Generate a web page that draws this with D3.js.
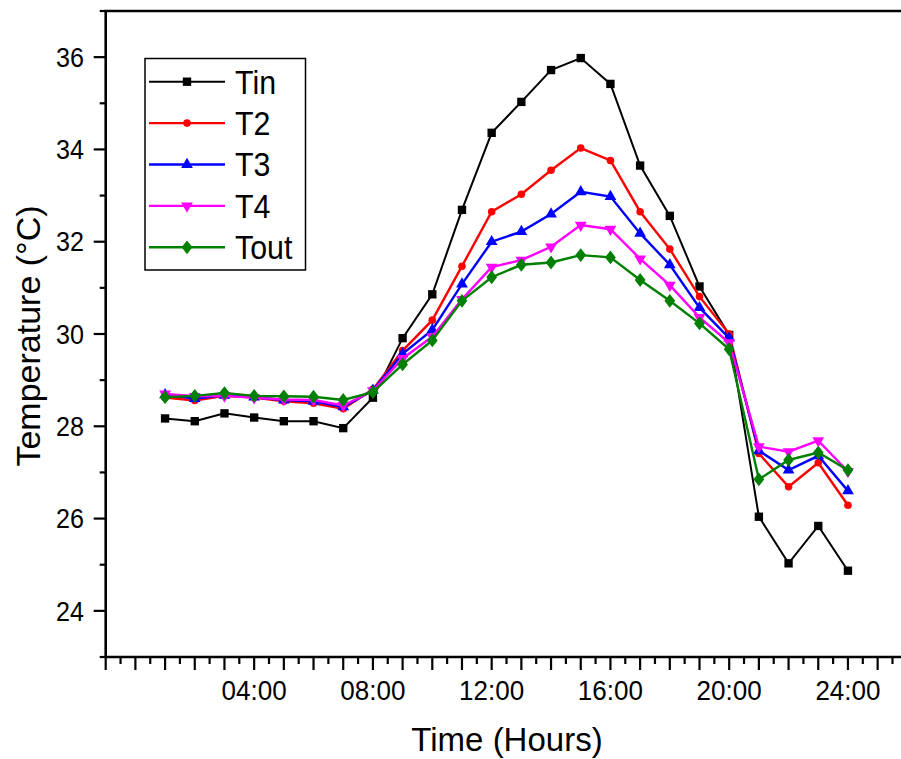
<!DOCTYPE html>
<html><head><meta charset="utf-8">
<script src="https://cdn.jsdelivr.net/npm/d3@7"></script>
<style>body{margin:0;background:#fff}svg{display:block}text{font-family:"Liberation Sans",Arial,sans-serif}</style>
</head><body>
<svg id="c" width="901" height="759"></svg>
<script>
const hours = [1,2,3,4,5,6,7,8,9,10,11,12,13,14,15,16,17,18,19,20,21,22,23,24];
const Tin  = [28.17,28.11,28.28,28.19,28.11,28.11,27.96,28.62,29.91,30.86,32.69,34.36,35.03,35.72,35.98,35.42,33.65,32.56,31.03,29.98,26.04,25.03,25.84,24.87];
const T2   = [28.62,28.56,28.66,28.62,28.54,28.50,28.38,28.80,29.64,30.30,31.47,32.65,33.03,33.55,34.03,33.76,32.65,31.84,30.81,30.00,27.41,26.69,27.21,26.29];
const T3   = [28.68,28.60,28.67,28.63,28.57,28.54,28.42,28.78,29.57,30.09,31.08,32.00,32.22,32.60,33.08,32.98,32.18,31.50,30.57,29.91,27.47,27.05,27.36,26.60];
const T4   = [28.70,28.65,28.66,28.62,28.58,28.57,28.45,28.77,29.47,29.94,30.75,31.45,31.60,31.89,32.36,32.27,31.63,31.06,30.36,29.81,27.56,27.45,27.69,27.02];
const Tout = [28.63,28.66,28.72,28.66,28.65,28.64,28.57,28.74,29.34,29.86,30.72,31.23,31.50,31.55,31.71,31.66,31.17,30.72,30.23,29.67,26.85,27.27,27.43,27.05];
const seriesNames = ["Tin","T2","T3","T4","Tout"];
const seriesColors = ["#000000","#ff0000","#0000ff","#ff00ff","#008000"];
const seriesSymbols = ["square","circle","triangle","triangleDown","diamond"];
const yTicks = [24,26,28,30,32,34,36];
const xTickHours = [4,8,12,16,20,24];
const xTickLabels = ["04:00","08:00","12:00","16:00","20:00","24:00"];
const xTitle = "Time (Hours)";
const yTitle = "Temperature (°C)";

const data = [Tin,T2,T3,T4,Tout];
const svg = d3.select("#c");
const L = 105.7, T = 11, B = 657;
const x = d3.scaleLinear().domain([-1, 27]).range([L, L + 28*29.69]);
const y = d3.scaleLinear().domain([23, 37]).range([B, T]);

// axes
const xMajor = d3.range(-1, 28, 1), xMinor = d3.range(-0.5, 27, 1);
const gx = svg.append("g");
gx.selectAll("line.maj").data(xMajor).join("line")
  .attr("x1", d=>x(d)).attr("x2", d=>x(d)).attr("y1", B).attr("y2", B+13)
  .attr("stroke","#000").attr("stroke-width",2.2);
gx.selectAll("line.min").data(xMinor).join("line")
  .attr("x1", d=>x(d)).attr("x2", d=>x(d)).attr("y1", B).attr("y2", B+7)
  .attr("stroke","#000").attr("stroke-width",2.2);
gx.selectAll("text").data(xTickHours).join("text")
  .attr("x", d=>x(d)).attr("y", 700).attr("text-anchor","middle")
  .attr("font-size", 28).attr("transform", d=>`translate(${x(d)},0) scale(0.93,1) translate(${-x(d)},0)`)
  .text((d,i)=>xTickLabels[i]);

const gy = svg.append("g");
gy.selectAll("line.maj").data(d3.range(23,38,1)).join("line")
  .attr("y1", d=>y(d)).attr("y2", d=>y(d)).attr("x1", L).attr("x2", d=> d%2===0 ? L-12 : L-6)
  .attr("stroke","#000").attr("stroke-width",2.2);
gy.selectAll("text").data(yTicks).join("text")
  .attr("x", 84).attr("y", d=>y(d)).attr("dy","0.36em").attr("text-anchor","end")
  .attr("font-size", 27).attr("transform","translate(84,0) scale(0.93,1) translate(-84,0)").text(d=>d);

svg.append("line").attr("x1",L).attr("x2",L).attr("y1",T).attr("y2",B+1).attr("stroke","#000").attr("stroke-width",2.6);
svg.append("line").attr("x1",L-1).attr("x2",905).attr("y1",B).attr("y2",B).attr("stroke","#000").attr("stroke-width",2.6);
svg.append("line").attr("x1",L-1).attr("x2",905).attr("y1",T).attr("y2",T).attr("stroke","#000").attr("stroke-width",2.6);

svg.append("text").attr("x", 507).attr("y", 751).attr("text-anchor","middle").attr("font-size",33).text(xTitle);
svg.append("text").attr("transform","translate(40,336) rotate(-90)").attr("text-anchor","middle").attr("font-size",34).text(yTitle);

// symbols
function sym(kind){
  const map = {square:[d3.symbolSquare,70], circle:[d3.symbolCircle,45], triangle:[d3.symbolTriangle,60], triangleDown:[d3.symbolTriangle,60], diamond:[d3.symbolDiamond,55]};
  return d3.symbol().type(map[kind][0]).size(map[kind][1])();
}
function extra(kind){ return kind==="triangleDown" ? " rotate(180)" : (kind==="diamond" ? " scale(1.35,1)" : ""); }
const line = d3.line().x((d,i)=>x(hours[i])).y(d=>y(d));
data.forEach((s,k)=>{
  const g = svg.append("g");
  g.append("path").attr("d", line(s)).attr("fill","none").attr("stroke",seriesColors[k]).attr("stroke-width", k===0?2:2.4);
  g.selectAll("path.m").data(s).join("path").attr("class","m")
    .attr("d", sym(seriesSymbols[k]))
    .attr("transform",(d,i)=>`translate(${x(hours[i])},${y(d)})${extra(seriesSymbols[k])}`)
    .attr("fill",seriesColors[k]);
});

// legend
const lg = svg.append("g");
lg.append("rect").attr("x",145).attr("y",58.5).attr("width",160.5).attr("height",211.5).attr("fill","#fff").attr("stroke","#000").attr("stroke-width",1.5);
seriesNames.forEach((n,k)=>{
  const yy = 81.7 + k*41.4;
  lg.append("line").attr("x1",149).attr("x2",225).attr("y1",yy).attr("y2",yy).attr("stroke",seriesColors[k]).attr("stroke-width",k===0?2:2.4);
  lg.append("path").attr("d",sym(seriesSymbols[k])).attr("fill",seriesColors[k])
    .attr("transform",`translate(187,${yy})${extra(seriesSymbols[k])}`);
  lg.append("text").attr("x",235).attr("y",yy+12).attr("font-size",33)
    .attr("transform",`translate(235,0) scale(0.92,1) translate(-235,0)`).text(n);
});
</script>
</body></html>
